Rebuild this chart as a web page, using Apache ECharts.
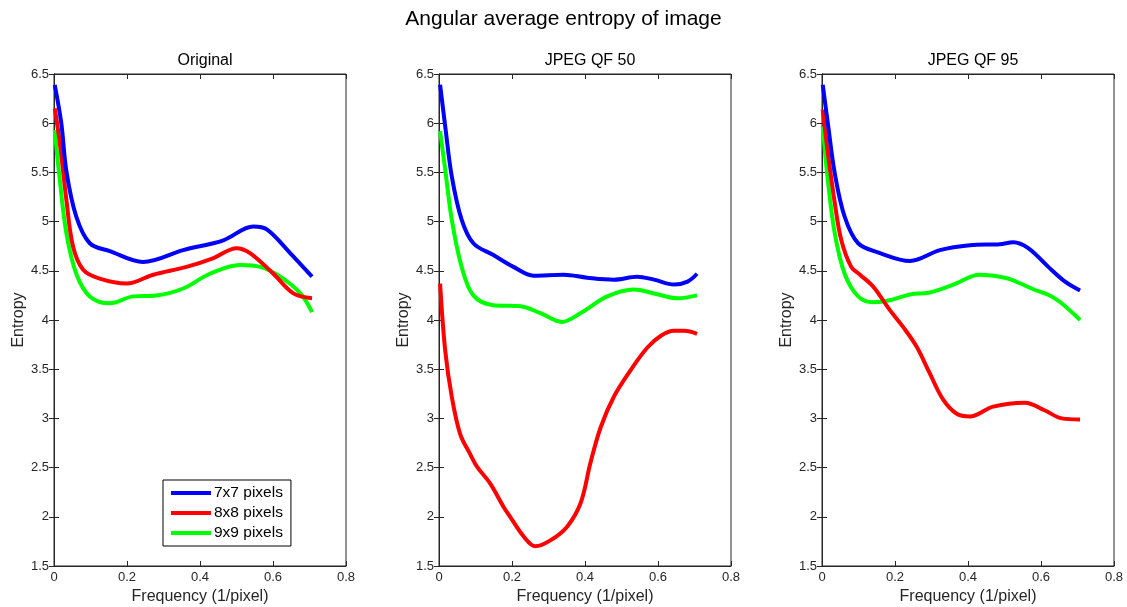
<!DOCTYPE html>
<html><head><meta charset="utf-8">
<script src="https://cdn.jsdelivr.net/npm/echarts@6/dist/echarts.min.js"></script>
<style>html,body{margin:0;padding:0;background:#fff}#c{width:1127px;height:607px}</style>
</head><body><div id="c"></div>
<script>
const panelTitles = ['Original', 'JPEG QF 50', 'JPEG QF 95'];
const seriesNames = ['7x7 pixels', '8x8 pixels', '9x9 pixels'];
const seriesColors = ['#0000ff', '#ff0000', '#00ff00'];
const xTicks = [0, 0.2, 0.4, 0.6, 0.8];
const yTicks = [1.5, 2, 2.5, 3, 3.5, 4, 4.5, 5, 5.5, 6, 6.5];

// Panel 1: Original
const orig7 = [[0.002,6.39],[0.02,6.0],[0.034,5.51],[0.061,5.05],[0.098,4.78],[0.153,4.70],[0.244,4.59],[0.354,4.71],[0.464,4.81],[0.546,4.95],[0.583,4.92],[0.647,4.68],[0.707,4.44]];
const orig8 = [[0.002,6.15],[0.016,5.80],[0.034,5.22],[0.052,4.75],[0.08,4.51],[0.125,4.42],[0.199,4.37],[0.272,4.46],[0.363,4.54],[0.437,4.63],[0.50,4.73],[0.537,4.68],[0.601,4.47],[0.656,4.27],[0.707,4.22]];
const orig9 = [[0.002,5.93],[0.016,5.42],[0.034,4.88],[0.061,4.47],[0.098,4.24],[0.153,4.17],[0.217,4.24],[0.281,4.25],[0.354,4.32],[0.427,4.47],[0.51,4.56],[0.565,4.54],[0.62,4.44],[0.675,4.27],[0.707,4.08]];
// Panel 2: JPEG QF 50
const qf50_7 = [[0.003,6.39],[0.017,5.97],[0.035,5.46],[0.062,5.02],[0.094,4.78],[0.149,4.66],[0.204,4.54],[0.259,4.45],[0.342,4.46],[0.406,4.43],[0.479,4.41],[0.543,4.44],[0.589,4.41],[0.644,4.36],[0.681,4.39],[0.707,4.47]];
const qf50_8 = [[0.003,4.37],[0.017,3.69],[0.035,3.22],[0.058,2.84],[0.085,2.64],[0.104,2.51],[0.14,2.34],[0.177,2.10],[0.195,2.0],[0.232,1.80],[0.264,1.70],[0.305,1.76],[0.351,1.90],[0.388,2.14],[0.415,2.55],[0.443,2.91],[0.479,3.22],[0.525,3.49],[0.571,3.72],[0.608,3.84],[0.644,3.89],[0.672,3.89],[0.707,3.86]];
const qf50_9 = [[0.003,5.92],[0.017,5.53],[0.035,5.02],[0.062,4.54],[0.094,4.25],[0.149,4.15],[0.223,4.14],[0.278,4.07],[0.337,3.98],[0.388,4.07],[0.461,4.24],[0.534,4.31],[0.589,4.27],[0.654,4.22],[0.707,4.25]];
// Panel 3: JPEG QF 95
const qf95_7 = [[0.002,6.39],[0.016,6.0],[0.035,5.49],[0.062,5.05],[0.099,4.78],[0.159,4.68],[0.241,4.60],[0.323,4.71],[0.405,4.76],[0.487,4.77],[0.524,4.79],[0.565,4.73],[0.62,4.54],[0.666,4.39],[0.707,4.30]];
const qf95_8 = [[0.002,6.14],[0.016,5.70],[0.035,5.19],[0.053,4.81],[0.08,4.54],[0.104,4.46],[0.14,4.34],[0.186,4.10],[0.222,3.93],[0.259,3.73],[0.295,3.46],[0.332,3.19],[0.368,3.05],[0.405,3.02],[0.469,3.12],[0.556,3.16],[0.611,3.08],[0.657,3.0],[0.707,2.99]];
const qf95_9 = [[0.002,5.97],[0.016,5.42],[0.035,4.88],[0.062,4.47],[0.099,4.24],[0.14,4.18],[0.186,4.20],[0.241,4.26],[0.295,4.28],[0.36,4.36],[0.432,4.46],[0.487,4.44],[0.519,4.41],[0.574,4.32],[0.638,4.22],[0.707,4.0]];

const panelData = [[orig7, orig8, orig9], [qf50_7, qf50_8, qf50_9], [qf95_7, qf95_8, qf95_9]];

const FONT = 'Liberation Sans, Arial, sans-serif';
const gridLefts = [54, 439, 822];
const gridW = 292, gridTop = 74, gridH = 492;

const grids = [], xAxes = [], yAxes = [], series = [], titles = [];
titles.push({text:'Angular average entropy of image', left:'center', top:4,
  textStyle:{fontFamily:FONT, fontSize:21, fontWeight:'normal', color:'#000'}});
const lineAxis = {lineStyle:{color:'#262626', width:1}};
const tick = {inside:true, length:5, lineStyle:{color:'#262626'}};
for (let p = 0; p < 3; p++) {
  grids.push({left:gridLefts[p], top:gridTop, width:gridW, height:gridH, show:true, borderColor:'#262626', borderWidth:1,
    containLabel:false, outerBoundsMode:'none'});
  titles.push({text:panelTitles[p], left:gridLefts[p] + gridW/2, top:48, textAlign:'center',
    textStyle:{fontFamily:FONT, fontSize:16, fontWeight:'normal', color:'#000'}});
  const base = {min:xTicks[0], max:xTicks[xTicks.length-1], interval:0.2, gridIndex:p, type:'value', splitLine:{show:false}};
  xAxes.push(Object.assign({}, base, {position:'bottom', name:'Frequency (1/pixel)', nameLocation:'middle', nameGap:23,
    nameTextStyle:{fontFamily:FONT, fontSize:16, color:'#262626'},
    axisLine:lineAxis, axisTick:tick,
    axisLabel:{fontFamily:FONT, fontSize:13, color:'#262626', margin:5}}));
  xAxes.push(Object.assign({}, base, {position:'top', axisLine:lineAxis, axisTick:tick, axisLabel:{show:false}}));
  const ybase = {min:yTicks[0], max:yTicks[yTicks.length-1], interval:0.5, gridIndex:p, type:'value', splitLine:{show:false}};
  yAxes.push(Object.assign({}, ybase, {position:'left', name:'Entropy', nameLocation:'middle', nameGap:27, nameRotate:90,
    nameTextStyle:{fontFamily:FONT, fontSize:16, color:'#262626'},
    axisLine:lineAxis, axisTick:tick,
    axisLabel:{fontFamily:FONT, fontSize:13, color:'#262626', margin:5}}));
  yAxes.push(Object.assign({}, ybase, {position:'right', axisLine:lineAxis, axisTick:tick, axisLabel:{show:false}}));
  for (let s = 0; s < 3; s++) {
    series.push({type:'line', name:seriesNames[s], xAxisIndex:p*2, yAxisIndex:p*2, data:panelData[p][s],
      showSymbol:false, smooth:0.35, lineStyle:{color:seriesColors[s], width:4}, itemStyle:{color:seriesColors[s]},
      z: s===0 ? 4 : (s===1 ? 3 : 2), animation:false});
  }
}

const chart = echarts.init(document.getElementById('c'), null, {renderer:'canvas'});
chart.setOption({
  animation:false,
  backgroundColor:'#fff',
  title:titles,
  grid:grids, xAxis:xAxes, yAxis:yAxes, series:series,
  legend:{data:seriesNames, orient:'vertical', left:163, top:480,
    backgroundColor:'#fff', borderColor:'#000', borderWidth:1, padding:[5,8,5,8], itemGap:4,
    itemWidth:40, itemHeight:4, icon:'rect',
    textStyle:{fontFamily:FONT, fontSize:15.5, color:'#000', padding:[0,0,0,-2]}}
});
</script></body></html>
